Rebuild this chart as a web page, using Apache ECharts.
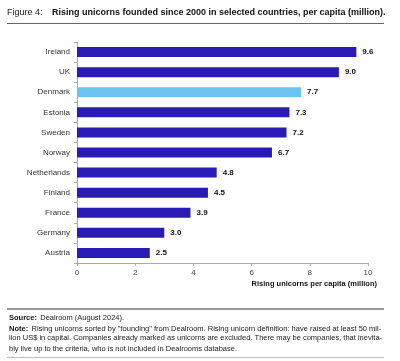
<!DOCTYPE html>
<html>
<head>
<meta charset="utf-8">
<script src="https://cdn.jsdelivr.net/npm/echarts@6/dist/echarts.min.js"></script>
<style>html,body{margin:0;padding:0;background:#fff;}#c{width:400px;height:361px;}</style>
</head>
<body>
<div id="c"></div>
<script>
const categories = ['Ireland','UK','Denmark','Estonia','Sweden','Norway','Netherlands','Finland','France','Germany','Austria'];
const values = [9.6, 9.0, 7.7, 7.3, 7.2, 6.7, 4.8, 4.5, 3.9, 3.0, 2.5];
const highlight = 'Denmark';
const xTicks = [0, 2, 4, 6, 8, 10];

const FONT = '"Liberation Sans", Arial, sans-serif';
const chart = echarts.init(document.getElementById('c'));
chart.setOption({
  animation: false,
  backgroundColor: '#fff',
  textStyle: { fontFamily: FONT },
  grid: { left: 77, right: 32, top: 42, bottom: 98 },
  xAxis: {
    type: 'value', min: 0, max: 10, interval: 2,
    name: 'Rising unicorns per capita (million)',
    nameLocation: 'end',
    nameGap: 0,
    nameTextStyle: { fontFamily: FONT, fontSize: 7.5, fontWeight: 'bold', color: '#111', align: 'right', verticalAlign: 'top', padding: [17, -9, 0, 0] },
    axisLine: { show: true, lineStyle: { color: '#aaa', width: 1 } },
    axisTick: { show: true, length: 3, lineStyle: { color: '#aaa' } },
    axisLabel: { fontSize: 8, color: '#444', margin: 6, formatter: v => xTicks.includes(v) ? String(v) : '' },
    splitLine: { show: false }
  },
  yAxis: {
    type: 'category', inverse: true, data: categories,
    axisLine: { show: true, lineStyle: { color: '#aaa', width: 1 } },
    axisTick: { show: true, length: 3, lineStyle: { color: '#aaa' } },
    axisLabel: { fontSize: 8, color: '#333', margin: 7 }
  },
  series: [{
    type: 'bar',
    barWidth: 10,
    data: values.map((v, i) => ({
      value: v,
      itemStyle: { color: categories[i] === highlight ? '#6DC3F1' : '#2A1BB7' }
    })),
    label: {
      show: true, position: 'right', distance: 6,
      fontSize: 8, fontWeight: 'bold', color: '#111',
      formatter: p => p.value.toFixed(1)
    }
  }],
  graphic: [
    { type: 'text', left: 7, top: 8, style: { text: 'Figure 4:', font: '9px ' + FONT, fill: '#222' } },
    { type: 'text', left: 52, top: 8, style: { text: 'Rising unicorns founded since 2000 in selected countries, per capita (million).', font: 'bold 9px ' + FONT, fill: '#111' } },
    { type: 'line', shape: { x1: 7, y1: 23.5, x2: 384, y2: 23.5 }, style: { stroke: '#666', lineWidth: 1 } },
    { type: 'line', shape: { x1: 7, y1: 309, x2: 384, y2: 309 }, style: { stroke: '#999', lineWidth: 2 } },
    { type: 'text', left: 9, top: 312, style: { rich: { b: { font: 'bold 7.5px ' + FONT, fill: '#111' }, n: { font: '7.5px ' + FONT, fill: '#222' } }, text: '{b|Source:} {n|Dealroom (August 2024).}' } },
    { type: 'text', left: 9, top: 323, style: { rich: { b: { font: 'bold 7.5px ' + FONT, fill: '#111' }, n: { font: '7.5px ' + FONT, fill: '#222' } }, text: '{b|Note:} {n|Rising unicorns sorted by "founding" from Dealroom. Rising unicorn definition: have raised at least 50 mil-}' } },
    { type: 'text', left: 9, top: 334, style: { text: 'lion US$ in capital. Companies already marked as unicorns are excluded. There may be companies, that inevita-', font: '7.5px ' + FONT, fill: '#222' } },
    { type: 'text', left: 9, top: 345, style: { text: 'bly live up to the criteria, who is not included in Dealrooms database.', font: '7.5px ' + FONT, fill: '#222' } },
    { type: 'line', shape: { x1: 7, y1: 357.5, x2: 384, y2: 357.5 }, style: { stroke: '#bbb', lineWidth: 1 } }
  ]
});
</script>
</body>
</html>
